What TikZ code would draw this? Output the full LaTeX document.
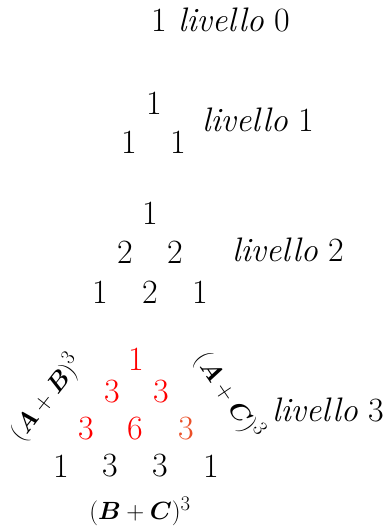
\documentclass[tikz,border=0pt]{standalone}
\usepackage{amsmath}
\usepackage{bm}
\definecolor{numred}{RGB}{255,0,0}
\definecolor{numorange}{RGB}{235,80,40}
\begin{document}
\begin{tikzpicture}[x=1pt,y=-1pt,
  every node/.style={inner sep=0pt,outer sep=0pt,font=\fontsize{34}{40}\selectfont},
  num/.style={anchor=center},
  lev/.style={anchor=base west},
  lbl/.style={anchor=center,font=\fontsize{30}{36}\selectfont}]
\useasboundingbox (0,0) rectangle (389,528);
% level 0
\node[num] (z0) at (159,20) {1};
\node[lev] (l0) at (178,31) {\textit{livello} 0};
% level 1
\node[num] (a1) at (154,103) {1};
\node[num] (b1) at (129,142) {1};
\node[num] (b2) at (178,142) {1};
\node[lev] (l1) at (202,131) {\textit{livello} 1};
% level 2
\node[num] (c1) at (150,213) {1};
\node[num] (d1) at (125,252) {2};
\node[num] (d2) at (175,252) {2};
\node[num] (e1) at (100,292) {1};
\node[num] (e2) at (150,292) {2};
\node[num] (e3) at (200,292) {1};
\node[lev] (l2) at (232,261) {\textit{livello} 2};
% level 3
\node[num,text=numred] (f1) at (136,359) {1};
\node[num,text=numred] (g1) at (112,392) {3};
\node[num,text=numred] (g2) at (161,392) {3};
\node[num,text=numred] (h1) at (86,429) {3};
\node[num,text=numred] (h2) at (135,429) {6};
\node[num,text=numorange] (h3) at (186,429) {3};
\node[num] (i1) at (61,466) {1};
\node[num] (i2) at (110,466) {3};
\node[num] (i3) at (160,466) {3};
\node[num] (i4) at (211,466) {1};
\node[lev] (l3) at (272,421) {\textit{livello} 3};
% side labels
\node[lbl,rotate=52] (ab) at (46,398) {$(\bm{A}+\bm{B})^3$};
\node[lbl,rotate=-56] (ac) at (229,396) {$(\bm{A}+\bm{C})^3$};
\node[lbl] (bc) at (140,511) {$(\bm{B}+\bm{C})^3$};
\end{tikzpicture}
\end{document}
